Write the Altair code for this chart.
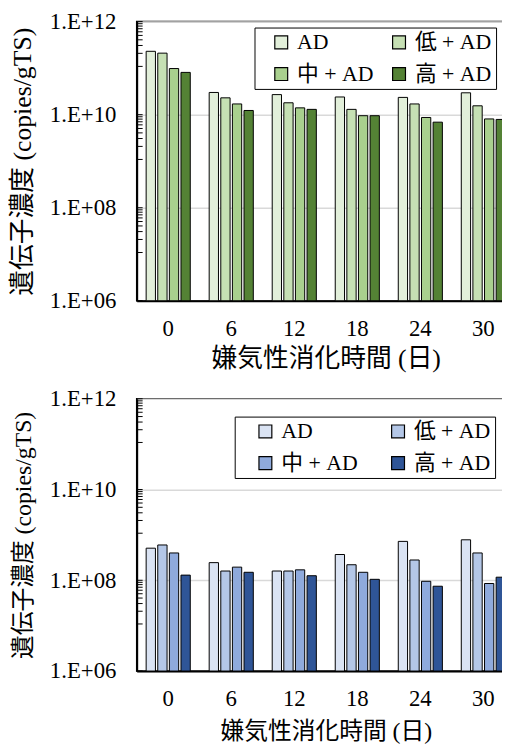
import altair as alt
import pandas as pd

FONT = "'Liberation Serif', 'Noto Sans CJK JP'"

days = ["0", "6", "12", "18", "24", "30"]
groups = ["AD", "低 + AD", "中 + AD", "高 + AD"]

# upper panel (green)
top_ad = [2.3e11, 3.0e10, 2.7e10, 2.4e10, 2.35e10, 2.95e10]
top_low = [2.1e11, 2.3e10, 1.8e10, 1.3e10, 1.7e10, 1.55e10]
top_mid = [9.8e10, 1.7e10, 1.4e10, 9.5e9, 8.7e9, 8.1e9]
top_high = [8.1e10, 1.23e10, 1.3e10, 9.5e9, 6.9e9, 7.9e9]

# lower panel (blue)
bot_ad = [5.1e8, 2.45e8, 1.6e8, 3.7e8, 7.2e8, 7.8e8]
bot_low = [6.0e8, 1.6e8, 1.6e8, 2.2e8, 2.8e8, 4.0e8]
bot_mid = [4.0e8, 1.95e8, 1.7e8, 1.5e8, 9.5e7, 8.5e7]
bot_high = [1.3e8, 1.5e8, 1.26e8, 1.05e8, 7.4e7, 1.17e8]

green = ["#E2EFDA", "#C6E0B4", "#A9D08E", "#548235"]
blue = ["#DAE3F3", "#B4C7E7", "#8FAADC", "#2F5597"]

major_ticks = [1e6, 1e8, 1e10, 1e12]
minor_bases = [1e6, 1e8, 1e10]
minor_mult = [10.9, 20.8, 30.7, 40.6, 50.5, 60.4, 70.3, 80.2, 90.1]

y_title = "遺伝子濃度 (copies/gTS)"
x_title = "嫌気性消化時間 (日)"


def make_df(series):
    rows = []
    for g, vals in zip(groups, series):
        for d, v in zip(days, vals):
            rows.append({"day": d, "group": g, "value": v})
    return pd.DataFrame(rows)


tick_df = pd.DataFrame(
    {"v": [b * m for b in minor_bases for m in minor_mult] + major_ticks}
)

label_expr = (
    "'1.E+' + (round(log(datum.value)/LN10) < 10 ? '0' : '') + "
    "round(log(datum.value)/LN10)"
)


def panel(series, colors, height, title_size, x_title_pad, legend_x,
          legend_y, sym_offset, col_pad):
    yscale = alt.Scale(type="log", domain=[1e6, 1e12], nice=False)
    yaxis = alt.Axis(
        values=major_ticks, labelExpr=label_expr, ticks=False,
        tickSize=0, domainColor="black", domainWidth=2,
        gridColor="#D9D9D9", gridWidth=1.5, labelFont=FONT,
        labelFontSize=23, labelColor="black", labelPadding=21,
        title=y_title, titleFont=FONT, titleFontSize=title_size,
        titleFontWeight="normal", titleColor="black", titlePadding=14,
    )
    bars = alt.Chart(make_df(series)).mark_bar(
        stroke="black", strokeWidth=1
    ).encode(
        x=alt.X(
            "day:N", sort=days,
            scale=alt.Scale(paddingInner=0.3, paddingOuter=0.15),
            axis=alt.Axis(
                labelAngle=0, ticks=False, tickSize=0, domainColor="black",
                domainWidth=2, labelFont=FONT, labelFontSize=23,
                labelColor="black", labelPadding=17, title=x_title,
                titleFont=FONT, titleFontSize=title_size,
                titleFontWeight="normal", titleColor="black",
                titlePadding=x_title_pad, grid=False,
            ),
        ),
        xOffset=alt.XOffset(
            "group:N", sort=groups,
            scale=alt.Scale(paddingInner=0.2, paddingOuter=0),
        ),
        y=alt.Y("value:Q", scale=yscale, axis=yaxis, title=y_title),
        y2=alt.datum(1e6),
        color=alt.Color(
            "group:N", sort=groups,
            scale=alt.Scale(domain=groups, range=colors),
            legend=alt.Legend(
                title=None, orient="none", legendX=legend_x,
                legendY=legend_y, columns=2, direction="horizontal",
                symbolType="square",
                symbolSize=169, symbolStrokeColor="black",
                symbolStrokeWidth=1.2, labelFont=FONT, labelFontSize=22,
                labelColor="black", strokeColor="black", fillColor="white",
                padding=4, rowPadding=10, columnPadding=col_pad,
                symbolOffset=sym_offset, labelOffset=5,
            ),
        ),
    )
    ticks = alt.Chart(tick_df).mark_rule(color="black", strokeWidth=1).encode(
        y=alt.Y("v:Q", scale=yscale, axis=yaxis, title=y_title),
        x=alt.value(0),
        x2=alt.value(6),
    )
    return alt.layer(bars, ticks).properties(width=382, height=height)


top = panel([top_ad, top_low, top_mid, top_high], green, 282, 26, 5,
            119, 6, 12, 2)
bottom = panel([bot_ad, bot_low, bot_mid, bot_high], blue, 275, 24, 9,
               99, 18, 16, 13)

chart = alt.vconcat(top, bottom, spacing=15).resolve_scale(
    color="independent", x="independent", y="independent"
).properties(
    padding={"left": 0, "top": -2, "right": -14, "bottom": 0},
    background="white",
).configure_view(stroke="black", strokeWidth=1.5)

chart.save("out.html", embed_options={"renderer": "svg", "actions": False})
